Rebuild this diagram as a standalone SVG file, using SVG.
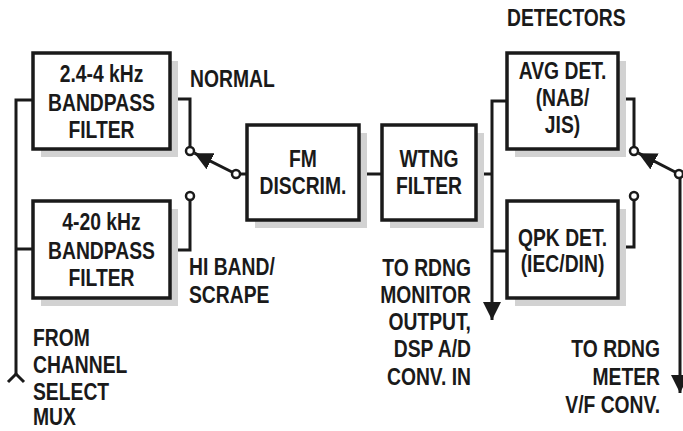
<svg xmlns="http://www.w3.org/2000/svg" width="683" height="431" viewBox="0 0 683 431">
<defs>
<marker id="arr" markerUnits="userSpaceOnUse" viewBox="0 0 18 18" refX="18" refY="9" markerWidth="18" markerHeight="18" orient="auto">
<path d="M0,0 L18,9 L0,18 z" fill="#1a1a1a"/>
</marker>
</defs>
<style>
.box{fill:#fff;stroke:#1a1a1a;stroke-width:3.5}
.sh{fill:#d2d2d2}
.w{fill:none;stroke:#1a1a1a;stroke-width:3}
.c{fill:#fff;stroke:#1a1a1a;stroke-width:2.5}
text{font-family:"Liberation Sans",Arial,sans-serif;font-weight:bold;font-size:23px;fill:#1a1a1a;transform-box:fill-box;transform:scaleX(0.84);transform-origin:left center}
.m{text-anchor:middle;transform-origin:center}
.e{text-anchor:end;transform-origin:right center}
</style>
<rect width="683" height="431" fill="#fff"/>
<g id="connectors">
<polyline class="w" points="33,100 16,100 16,376"/>
<line class="w" x1="16" y1="249" x2="33" y2="249"/>
<path class="w" d="M8,382 L16,374 L24,382" stroke-width="2.5"/>
<polyline class="w" points="170,99 190,99 190,147"/>
<polyline class="w" points="170,250 190,250 190,200"/>
<line class="w" x1="236" y1="174" x2="194.5" y2="153.2" marker-end="url(#arr)"/>
<line class="w" x1="240" y1="174" x2="247" y2="174"/>
<line class="w" x1="359" y1="174" x2="382" y2="174"/>
<line class="w" x1="476" y1="174" x2="492" y2="174"/>
<polyline class="w" points="507,101 492,101 492,320" marker-end="url(#arr)"/>
<line class="w" x1="492" y1="251" x2="507" y2="251"/>
<polyline class="w" points="618,99 634,99 634,147"/>
<polyline class="w" points="618,247 634,247 634,200"/>
<line class="w" x1="679" y1="174" x2="638.5" y2="153.2" marker-end="url(#arr)"/>
<line class="w" x1="680" y1="178" x2="680" y2="393" marker-end="url(#arr)"/>
<circle class="c" cx="190" cy="151" r="4"/>
<circle class="c" cx="190" cy="196" r="4"/>
<circle class="c" cx="236" cy="174" r="4"/>
<circle class="c" cx="634" cy="151" r="4"/>
<circle class="c" cx="634" cy="196" r="4"/>
<circle class="c" cx="679" cy="174" r="4"/>
</g>
<g id="bpf1">
<rect class="sh" x="41" y="61" width="137" height="96"/>
<rect class="box" x="33" y="53" width="137" height="96"/>
<text class="m" x="101.5" y="82">2.4-4 kHz</text>
<text class="m" x="101.5" y="111">BANDPASS</text>
<text class="m" x="101.5" y="138">FILTER</text>
</g>
<g id="bpf2">
<rect class="sh" x="41" y="209" width="137" height="97"/>
<rect class="box" x="33" y="201" width="137" height="97"/>
<text class="m" x="101.5" y="230">4-20 kHz</text>
<text class="m" x="101.5" y="259">BANDPASS</text>
<text class="m" x="101.5" y="286">FILTER</text>
</g>
<g id="fm">
<rect class="sh" x="255" y="133" width="112" height="95"/>
<rect class="box" x="247" y="125" width="112" height="95"/>
<text class="m" x="303" y="167">FM</text>
<text class="m" x="303" y="194">DISCRIM.</text>
</g>
<g id="wtng">
<rect class="sh" x="390" y="133" width="94" height="95"/>
<rect class="box" x="382" y="125" width="94" height="95"/>
<text class="m" x="429" y="167">WTNG</text>
<text class="m" x="429" y="194">FILTER</text>
</g>
<g id="avg">
<rect class="sh" x="515" y="61" width="111" height="96"/>
<rect class="box" x="507" y="53" width="111" height="96"/>
<text class="m" x="562.5" y="79.5">AVG DET.</text>
<text class="m" x="562.5" y="106.5">(NAB/</text>
<text class="m" x="562.5" y="133.5">JIS)</text>
</g>
<g id="qpk">
<rect class="sh" x="515" y="209" width="111" height="97"/>
<rect class="box" x="507" y="201" width="111" height="97"/>
<text class="m" x="562.5" y="246">QPK DET.</text>
<text class="m" x="562.5" y="272">(IEC/DIN)</text>
</g>
<g id="labels">
<text x="507" y="26.5">DETECTORS</text>
<text x="190" y="87">NORMAL</text>
<text x="189" y="275">HI BAND/</text>
<text x="189" y="303">SCRAPE</text>
<text x="33" y="346">FROM</text>
<text x="33" y="373">CHANNEL</text>
<text x="33" y="400">SELECT</text>
<text x="33" y="425.5">MUX</text>
<text class="e" x="471" y="276">TO RDNG</text>
<text class="e" x="471" y="303">MONITOR</text>
<text class="e" x="471" y="330">OUTPUT,</text>
<text class="e" x="471" y="357.5">DSP A/D</text>
<text class="e" x="471" y="385">CONV. IN</text>
<text class="e" x="660" y="357.5">TO RDNG</text>
<text class="e" x="660" y="385">METER</text>
<text class="e" x="660" y="413">V/F CONV.</text>
</g>
</svg>
